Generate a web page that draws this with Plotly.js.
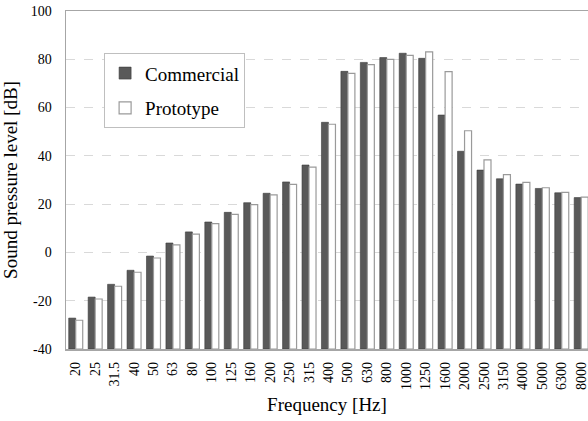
<!DOCTYPE html>
<html>
<head>
<meta charset="utf-8">
<script src="https://cdn.plot.ly/plotly-3.0.1.min.js"></script>
<style>
  html, body { margin: 0; padding: 0; background: #fff; }
  #chart { width: 588px; height: 421px; }
</style>
</head>
<body>
<div id="chart"></div>
<script>
// One-third octave band centre frequencies [Hz]
const bands = ['20', '25', '31.5', '40', '50', '63', '80', '100', '125', '160',
  '200', '250', '315', '400', '500', '630', '800', '1000', '1250', '1600',
  '2000', '2500', '3150', '4000', '5000', '6300', '8000'];

// Sound pressure level per band [dB]
const commercial = [-27.2, -18.5, -13.2, -7.4, -1.5, 3.9, 8.5, 12.6, 16.6, 20.6,
  24.5, 29.2, 36.2, 53.9, 75.0, 78.7, 80.7, 82.5, 80.4, 56.9,
  41.9, 34.1, 30.5, 28.3, 26.5, 24.7, 22.7];
const prototype = [-28.1, -19.3, -14.0, -8.2, -2.3, 3.1, 7.6, 11.9, 15.8, 19.8,
  23.8, 28.2, 35.3, 53.1, 74.2, 77.8, 80.0, 81.6, 83.1, 74.9,
  50.4, 38.3, 32.2, 29.0, 26.8, 24.9, 22.9];

const yTicks = [-40, -20, 0, 20, 40, 60, 80, 100];

const serif = "'Liberation Serif', 'Times New Roman', serif";
const base = -40;

// Bars start from the bottom of the axis (-40 dB)
const traces = [
  {
    type: 'bar',
    name: 'Commercial',
    legendgroup: 'c',
    x: bands,
    y: commercial.map(v => v - base),
    base: base,
    marker: { color: '#595959', line: { color: '#3a3a3a', width: 0.6 } },
    hoverinfo: 'skip'
  },
  {
    type: 'bar',
    name: 'Prototype',
    legendgroup: 'p',
    x: bands,
    y: prototype.map(v => v - base),
    base: base,
    marker: { color: '#ffffff', line: { color: '#9a9a9a', width: 1.2 } },
    hoverinfo: 'skip'
  }
];

const layout = {
  width: 588,
  height: 421,
  margin: { l: 66, r: 0, t: 11, b: 72 },
  paper_bgcolor: '#ffffff',
  plot_bgcolor: '#ffffff',
  font: { family: serif, color: '#000000', size: 14 },
  barmode: 'group',
  bargap: 0.28,
  bargroupgap: 0,
  showlegend: true,
  legend: {
    x: 0.073, y: 0.875, xanchor: 'left', yanchor: 'top',
    bgcolor: '#ffffff',
    bordercolor: '#bfbfbf',
    borderwidth: 1,
    font: { family: serif, size: 19, color: '#000000' },
    traceorder: 'grouped',
    tracegroupgap: 7
  },
  xaxis: {
    type: 'category',
    categoryorder: 'array',
    categoryarray: bands,
    range: [-0.5, 26.35],
    tickangle: -90,
    tickfont: { family: serif, size: 14, color: '#000000' },
    ticks: '',
    ticklabelstandoff: 6,
    showgrid: false,
    showline: true,
    mirror: true,
    linecolor: '#a6a6a6',
    linewidth: 1.5,
    title: { text: 'Frequency [Hz]', font: { family: serif, size: 19, color: '#000000' }, standoff: 8 }
  },
  yaxis: {
    range: [-40, 100],
    tickvals: yTicks,
    ticktext: yTicks.map(String),
    tickfont: { family: serif, size: 14, color: '#000000' },
    ticks: '',
    ticklabelstandoff: 10,
    showgrid: true,
    gridcolor: '#d9d9d9',
    griddash: 'dash',
    gridwidth: 1,
    zeroline: false,
    showline: true,
    linecolor: '#a6a6a6',
    linewidth: 1.5,
    title: { text: 'Sound pressure level [dB]', font: { family: serif, size: 19, color: '#000000' }, standoff: 8 }
  }
};

Plotly.newPlot('chart', traces, layout, { staticPlot: true, displayModeBar: false });
</script>
</body>
</html>
